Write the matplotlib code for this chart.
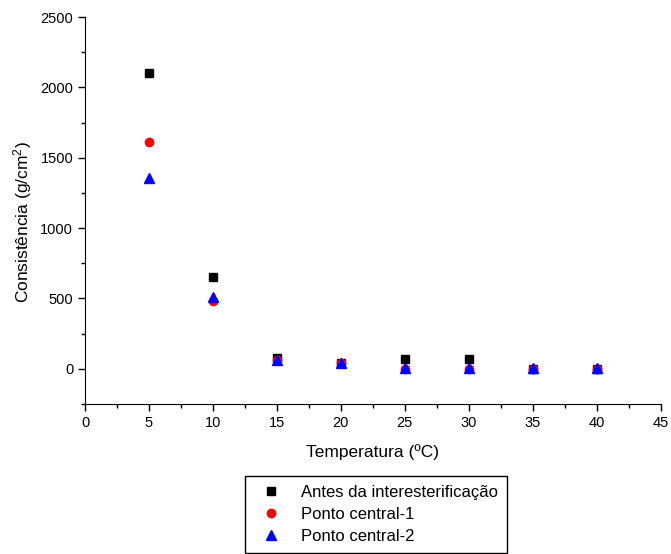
import numpy as np
import matplotlib
matplotlib.use('Agg')
import matplotlib.pyplot as plt
from matplotlib.ticker import MultipleLocator

plt.rcParams['font.family'] = ['Liberation Sans', 'DejaVu Sans']
plt.rcParams['mathtext.fontset'] = 'custom'
plt.rcParams['mathtext.rm'] = 'Liberation Sans'

temp = [5, 10, 15, 20, 25, 30, 35, 40]
antes = [2100, 650, 80, 40, 70, 70, 0, 0]
central1 = [1610, 480, 60, 40, 0, 0, 0, 0]
central2 = [1355, 510, 60, 40, 5, 5, 5, 5]

fig = plt.figure(figsize=(6.71, 5.54), dpi=100)
ax = fig.add_axes([0.1267, 0.2708, 0.858, 0.6985])

ax.plot(temp, antes, 's', color='black', markersize=6, label='Antes da interesterificação')
ax.plot(temp, central1, 'o', color='red', markersize=6, label='Ponto central-1')
ax.plot(temp, central2, '^', color='blue', markersize=7, label='Ponto central-2')

ax.set_xlim(0, 45)
ax.set_ylim(-250, 2500)
ax.xaxis.set_major_locator(MultipleLocator(5))
ax.xaxis.set_minor_locator(MultipleLocator(2.5))
ax.yaxis.set_major_locator(MultipleLocator(500))
ax.yaxis.set_minor_locator(MultipleLocator(250))
ax.tick_params(which='major', direction='out', length=5, width=1, labelsize=10.5)
ax.tick_params(which='minor', direction='out', length=3, width=1)
ax.spines['top'].set_visible(False)
ax.spines['right'].set_visible(False)

ax.set_xlabel('Temperatura (ºC)', fontsize=12.5, labelpad=10)
ax.set_ylabel('Consistência (g/cm$\\mathrm{^2}$)', fontsize=12.5)
ax.yaxis.set_label_coords(-0.088, 0.47)

ax.legend(loc='upper center', bbox_to_anchor=(0.505, -0.165), fontsize=12,
          frameon=True, fancybox=False, edgecolor='black', framealpha=1,
          handletextpad=0.8, borderpad=0.55, labelspacing=0.4)

fig.savefig('out.png', dpi=100)
